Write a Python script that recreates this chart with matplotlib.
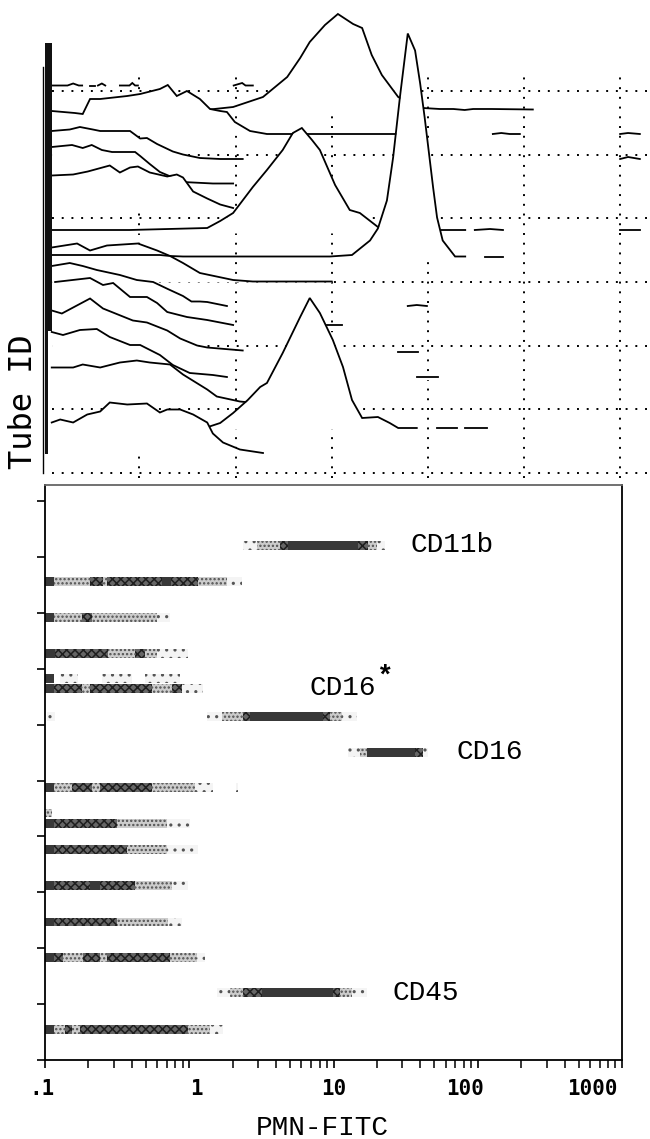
import numpy as np
import matplotlib.pyplot as plt
from matplotlib.ticker import LogLocator, NullFormatter

W, H = 650, 1139

# ---------------- top panel: FITC histograms per tube, (channel, height) ----------------
# (None, None) marks a run of empty channels
GAP = (None, None)
t00 = [(12, .5), (40, .5), (50, 2.5), (60, .5), (66, .5), GAP, (80, .5), (89, .5), GAP,
       (94, .5), (101, 2.5), (107, .5), GAP, (133, .5), (150, .5), (155, 3), (160, .5), (165, .5), GAP,
       (335, .5), (350, 3), (356, .5), (369, .5)]
t01 = [(284, .5), (334, 3.5), (387, 13.5), (430, 33.5), (453, 52.5), (470, 68.5), (497, 85.5), (520, 96.5),
       (547, 86.5), (563, 82.5), (580, 55.5), (598, 35.5), (627, 13.5), (651, 6.5), (671, 2.5), (701, 1.5),
       (725, 1.5), (745, .5), (760, 1.5), (793, 1.5), (866, 1)]
t02 = [(12, 24), (53, 22), (67, 21), (80, 36), (98, 36), (146, 39), (169, 41), (204, 46), (218, 50), (234, 39),
       (252, 44), (275, 36), (293, 26), (311, 24), (323, 23), (337, 13), (364, 4), (394, 1), (630, 1), GAP,
       (795, 1), (810, 2), (825, 1), (843, 1), GAP, (1021, 1), (1035, 2), (1056, 1)]
t03 = [(12, 28.5), (44, 30), (62, 32.5), (85, 30), (98, 28.5), (151, 28.5), (169, 21), (181, 21.5), (199, 15.5),
       (227, 8), (245, 5), (275, 1.5), (311, .5), (351, .5), GAP, (1021, .5), (1035, 2.5), (1056, .5)]
t04 = [(12, 37), (48, 39), (67, 36), (83, 39), (101, 34), (119, 32), (160, 32), (169, 28), (186, 20), (204, 12),
       (225, 7), (245, 2), (298, .5), (334, .5)]
t05 = [(12, 33), (50, 34), (76, 37), (115, 43), (133, 36), (151, 41), (165, 42), (186, 36), (217, 32), (234, 34),
       (245, 31), (263, 17), (288, 10), (311, 4), (334, .5)]
t06 = [(12, 3), (150, 3), (288, 5), (311, 12), (334, 20), (369, 46), (394, 63), (422, 83), (440, 100), (456, 105),
       (474, 93), (488, 83), (515, 48), (541, 23), (559, 20), (591, 6), (618, 3), (700, 3), (746, 3), GAP,
       (763, 3), (790, 4), (813, 3), GAP, (1021, 3), (1056, 3)]
t07 = [(12, 10), (57, 14), (80, 7), (110, 12), (165, 14), (199, 7), (222, 1.5), (245, 1), (506, 1), (545, 2.5),
       (577, 17), (591, 29), (607, 57), (618, 100), (630, 160), (644, 224), (657, 207), (666, 174), (674, 140),
       (689, 70), (696, 40), (706, 17), (728, 1), (746, 1), GAP, (781, 1), (813, 1)]
t08 = [(12, 27), (62, 27), (115, 27), (169, 27), (204, 27), (222, 26), (245, 19), (275, 9), (334, 2), (369, .5),
       (509, .5)]
t09 = [(12, 40.5), (44, 43.5), (67, 40.5), (92, 36.5), (133, 31.5), (163, 26.5), (192, 24.5), (218, 17.5),
       (245, 10.5), (260, 5), (275, 5), (288, 4.5), (323, .5), GAP, (644, .5), (660, 1.5), (678, .5)]
t10 = [(18, 49), (80, 53), (103, 46), (121, 48), (151, 34), (181, 34), (199, 28), (217, 19), (252, 14), (288, 11),
       (334, 6), GAP, (501, 6), (527, 6)]
t11 = [(12, 45), (30, 42), (80, 57), (103, 47), (156, 35), (181, 33), (217, 25), (240, 17), (270, 10), (288, 8),
       (351, 5), GAP, (627, 4), (662, 4)]
t12 = [(12, 48), (32, 45), (62, 50), (92, 51), (115, 43), (151, 35), (169, 35), (204, 25), (227, 15), (257, 7),
       (298, 5), (323, 3), GAP, (660, 3), (698, 3)]
t13 = [(12, 37), (50, 37), (67, 40), (98, 37), (133, 42), (163, 44), (186, 42), (222, 40), (245, 30), (288, 15),
       (305, 8), (346, 3), (364, 2)]
t14 = [(284, 1), (311, 6), (334, 16), (360, 29), (382, 42), (394, 46), (422, 76), (453, 112), (470, 131),
       (488, 116), (511, 89), (529, 62), (545, 29), (563, 11), (591, 12), (612, 6), (627, 1), (660, 1), GAP,
       (696, 1), (731, 1), GAP, (746, 1), (785, 1)]
t15 = [(12, 31), (27, 34), (50, 31), (75, 39), (98, 42), (115, 51), (146, 49), (181, 50), (204, 41), (217, 44),
       (240, 44), (263, 39), (288, 31), (298, 20), (316, 11), (346, 4), (387, .5)]
spike_ch = 12

# ---------------- bottom panel: (start channel, end channel, density level 1..4) ----------------
row_pos = [9.21, 8.57, 7.92, 7.28, 6.65, 6.15, 5.51, 4.88, 4.24, 3.77, 3.13, 2.47, 1.84, 1.20, 0.55]
r01 = [(351, 376, 1), (376, 417, 2), (417, 431, 3), (431, 556, 4), (556, 573, 3), (573, 589, 2), (589, 604, 1)]
r02 = [(0, 16, 4), (16, 80, 2), (80, 103, 3), (103, 110, 2), (110, 208, 3), (208, 224, 4), (224, 272, 3),
       (272, 323, 2), (323, 350, 1)]
r03 = [(0, 16, 4), (16, 66, 2), (66, 83, 3), (83, 199, 2), (199, 222, 1)]
r04 = [(0, 18, 4), (18, 112, 3), (112, 160, 2), (160, 178, 3), (178, 199, 2), (199, 254, 1)]
r05 = [(0, 16, 4), (16, 66, 3), (66, 80, 2), (80, 190, 3), (190, 225, 2), (225, 243, 3), (243, 280, 1)]
r06 = [(4, 18, 1), (288, 314, 1), (314, 351, 2), (351, 364, 3), (364, 493, 4), (493, 506, 3), (506, 527, 2),
       (527, 554, 1)]
r07 = [(538, 559, 1), (559, 572, 2), (572, 657, 4), (657, 671, 3), (671, 680, 1)]
r08 = [(0, 16, 4), (16, 48, 2), (48, 83, 3), (83, 98, 2), (98, 190, 3), (190, 266, 2), (266, 298, 1),
       (339, 343, 1)]
r09 = [(0, 16, 4), (16, 128, 3), (128, 217, 2), (217, 257, 1)]
r10 = [(0, 16, 4), (16, 146, 3), (146, 217, 2), (217, 272, 1)]
r11 = [(0, 16, 4), (16, 80, 3), (80, 98, 4), (98, 160, 3), (160, 225, 2), (225, 254, 1)]
r12 = [(0, 16, 4), (16, 128, 3), (128, 218, 2), (218, 243, 1)]
r13 = [(0, 16, 4), (16, 32, 3), (32, 67, 2), (67, 98, 3), (98, 110, 2), (110, 222, 3), (222, 270, 2),
       (270, 284, 1)]
r14 = [(305, 328, 1), (328, 351, 2), (351, 385, 3), (385, 511, 4), (511, 524, 3), (524, 545, 2), (545, 572, 1)]
r15 = [(0, 16, 4), (16, 36, 2), (36, 48, 3), (48, 62, 2), (62, 254, 3), (254, 293, 2), (293, 316, 1)]
# faint second lines in tubes 5 and 9
sub_pos = [6.83, 4.42]
r05b = [(0, 16, 4), (27, 59, 1), (101, 154, 1), (178, 240, 1)]
r09b = [(0, 12, 2)]

tick_labels = ['.1', '1', '10', '100', '1000']
label_fitc = [0.0953, 1.128, 10.07, 81.8, 627]


def fitc(ch):
    # 1024 channels over 4 decades starting at 0.1
    return 0.1 * 10 ** (np.asarray(ch, dtype=float) / 256.0)


def box(l, t, r, b):
    return [l / W, 1 - b / H, (r - l) / W, (b - t) / H]


def runs(trace):
    seg = []
    for c, h in trace:
        if c is None:
            if seg:
                yield seg
            seg = []
        else:
            seg.append((c, h))
    if seg:
        yield seg


plt.rcParams['hatch.linewidth'] = 1.1
fig = plt.figure(figsize=(W / 100, H / 100), dpi=100)
dot = (0, (1, 4))

# ---- waterfall
ax = fig.add_axes(box(43, 0, 650, 478))
ax.set_xscale('log')
ax.set_xlim(fitc(-3.5), fitc(1074))
ax.set_ylim(0, 478)
for s in ['top', 'right', 'bottom']:
    ax.spines[s].set_visible(False)
ax.spines['left'].set_bounds(5, 411)
ax.spines['left'].set_linewidth(1.0)
ax.set_xticks([])
ax.set_yticks([])
ax.minorticks_off()

for k in range(7):
    ax.plot(fitc([12, 1074]), [5 + 63.67 * k] * 2, ls=dot, color='k', lw=1.4, zorder=1)
for k in range(1, 7):
    ax.plot(fitc([170.7 * k - 3] * 2), [0, 406], ls=dot, color='k', lw=1.4, zorder=1)

tubes = [t00, t01, t02, t03, t04, t05, t06, t07, t08, t09, t10, t11, t12, t13, t14, t15]
for i, tr in enumerate(tubes):
    base = 392 - 24.5 * i
    for seg in runs(tr):
        c, h = np.array(seg, dtype=float).T
        x = fitc(c)
        ax.fill_between(x, base, base + h, color='white', lw=0, zorder=2 + 2 * i)
        ax.plot(x, base + h, color='k', lw=1.3, zorder=3 + 2 * i, solid_joinstyle='miter')
    w = spike_ch if i <= 10 else spike_ch / 2
    ax.fill_betweenx([base, 435], fitc(0), fitc(w), color='#111', lw=0, zorder=100)

fig.text(24 / W, 1 - 402 / H, 'Tube ID', rotation=90, ha='center', va='center',
         family='DejaVu Sans Mono', fontsize=23)

# ---- density bars
ax2 = fig.add_axes(box(45, 485, 622, 1060))
ax2.set_xscale('log')
ax2.set_xlim(0.1, 1000)
ax2.set_ylim(0, 10.29)

styles = {
    1: dict(color='#f4f4f4', hatch='..', edgecolor='#555555'),
    2: dict(color='#cccccc', hatch='....', edgecolor='#505050'),
    3: dict(color='#666666', hatch='xxxx', edgecolor='#1e1e1e'),
    4: dict(color='#383838', edgecolor='#383838'),
}
rows = [r01, r02, r03, r04, r05, r06, r07, r08, r09, r10, r11, r12, r13, r14, r15]
for y, row in list(zip(row_pos, rows)) + list(zip(sub_pos, [r05b, r09b])):
    for c0, c1, lev in row:
        st = dict(styles[lev])
        fc = st.pop('color')
        ax2.barh(y, fitc(c1) - fitc(c0), left=fitc(c0), height=0.16, facecolor=fc, lw=0, **st)

ax2.set_yticks(range(11))
ax2.set_xticks([0.1, 1, 10, 100, 1000])
ax2.xaxis.set_minor_locator(LogLocator(base=10, subs=np.arange(2, 10), numticks=20))
ax2.xaxis.set_minor_formatter(NullFormatter())
ax2.tick_params(axis='both', which='both', direction='out', length=6, width=1.2,
                labelleft=False, labelbottom=False)
ax2.tick_params(axis='x', which='minor', length=6, width=1.1)
for s in ax2.spines.values():
    s.set_linewidth(1.3)
ax2.spines['top'].set_color('#666')

for lab, xv in zip(tick_labels, label_fitc):
    ax2.text(xv, -0.05, lab, transform=ax2.get_xaxis_transform(), ha='center', va='center',
             family='DejaVu Sans Mono', fontweight='bold', fontsize=15, clip_on=False)

mono = dict(family='Liberation Mono', fontsize=20, va='center', ha='left')
ax2.text(fitc(648), row_pos[0], 'CD11b', **mono)
t16s = ax2.text(fitc(470), row_pos[5] + 0.5, 'CD16', **mono)
ax2.annotate('*', xy=(1.0, 0.95), xycoords=t16s, ha='left', va='center', family='Liberation Mono',
             fontsize=20, fontweight='bold')
ax2.text(fitc(731), row_pos[6], 'CD16', **mono)
ax2.text(fitc(616), row_pos[13], 'CD45', **mono)

fig.text(322 / W, 1 - 1128 / H, 'PMN-FITC', ha='center', va='center', family='Liberation Mono', fontsize=20)

fig.savefig('out.png', dpi=100)
